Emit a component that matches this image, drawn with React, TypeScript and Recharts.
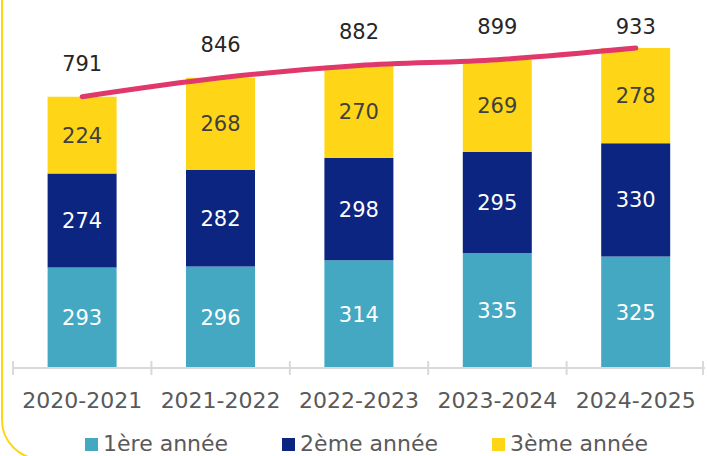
import React from "react"
import { Bar, ComposedChart, Legend, LabelList, Line, XAxis, YAxis } from "recharts"

const years = ["2020-2021", "2021-2022", "2022-2023", "2023-2024", "2024-2025"]
const premiere = [293, 296, 314, 335, 325]
const deuxieme = [274, 282, 298, 295, 330]
const troisieme = [224, 268, 270, 269, 278]
const totals = [791, 846, 882, 899, 933]
const edgeTicks = [0, 1, 2, 3, 4, 5]

const series = [
  { key: "premiere", name: "1ère année", color: "#44A8C2", label: "#ffffff" },
  { key: "deuxieme", name: "2ème année", color: "#0B2580", label: "#ffffff" },
  { key: "troisieme", name: "3ème année", color: "#FFD617", label: "#404040" },
]

const chartData = years.map((year, i) => ({
  year,
  idx: i + 0.5,
  premiere: premiere[i],
  deuxieme: deuxieme[i],
  troisieme: troisieme[i],
  total: totals[i],
}))

const FONT = "'DejaVu Sans', sans-serif"

// tick crossing the axis line at each category boundary
const EdgeTick = (props: any) => (
  <line x1={props.x} x2={props.x} y1={props.y - 7} y2={props.y + 7} stroke="#d9d9d9" strokeWidth={2} />
)

const TotalLabel = (props: any) => {
  const { x, y, value } = props
  return (
    <text x={x} y={Math.max(y - 33, 27)} textAnchor="middle" dominantBaseline="central" fontSize={21} fill="#262626">
      {value}
    </text>
  )
}

const LegendContent = () => (
  <div
    style={{
      display: "flex",
      justifyContent: "center",
      gap: 54,
      height: 28,
      lineHeight: "28px",
      paddingLeft: 26,
      fontSize: 22,
      color: "#595959",
      fontFamily: FONT,
    }}
  >
    {series.map((s) => (
      <div key={s.key} style={{ display: "flex", alignItems: "baseline" }}>
        <span style={{ display: "inline-block", width: 13, height: 13, background: s.color, marginRight: 5 }} />
        <span>{s.name}</span>
      </div>
    ))}
  </div>
)

export default function App() {
  return (
    <div style={{ position: "absolute", left: 0, top: 0, width: 707, height: 456, overflow: "hidden", background: "#fff", fontFamily: FONT }}>
      <div
        style={{
          position: "absolute",
          left: 1,
          top: -100,
          width: 900,
          height: 560,
          boxSizing: "border-box",
          border: "2.5px solid #FFD617",
          borderRadius: 40,
        }}
      />
      <ComposedChart
        width={707}
        height={456}
        data={chartData}
        margin={{ top: 25, right: 2, left: 13, bottom: 19 }}
        barCategoryGap="25%"
        style={{ position: "absolute", left: 0, top: 0 }}
      >
        <XAxis
          xAxisId="a"
          dataKey="idx"
          type="number"
          domain={[0, 5]}
          ticks={edgeTicks}
          allowDataOverflow
          height={1}
          tickSize={0}
          tickMargin={0}
          tickLine={false}
          axisLine={{ stroke: "#d9d9d9", strokeWidth: 2 }}
          tick={<EdgeTick />}
        />
        <XAxis
          xAxisId="b"
          dataKey="year"
          height={40}
          interval={0}
          tickSize={0}
          tickMargin={23}
          tickLine={false}
          axisLine={false}
          tick={{ fontSize: 22, fill: "#595959" }}
        />
        <YAxis hide domain={[0, 1000]} />
        <Legend verticalAlign="bottom" wrapperStyle={{ bottom: -2, left: 0, width: 707 }} content={<LegendContent />} />
        {series.map((s) => (
          <Bar key={s.key} xAxisId="b" dataKey={s.key} name={s.name} stackId="a" fill={s.color} isAnimationActive={false}>
            <LabelList dataKey={s.key} position="center" fill={s.label} fontSize={21} />
          </Bar>
        ))}
        <Line
          xAxisId="b"
          dataKey="total"
          type="monotone"
          stroke="#E0386B"
          strokeWidth={5}
          strokeLinecap="round"
          dot={false}
          legendType="none"
          isAnimationActive={false}
        >
          <LabelList dataKey="total" content={<TotalLabel />} />
        </Line>
      </ComposedChart>
    </div>
  )
}
